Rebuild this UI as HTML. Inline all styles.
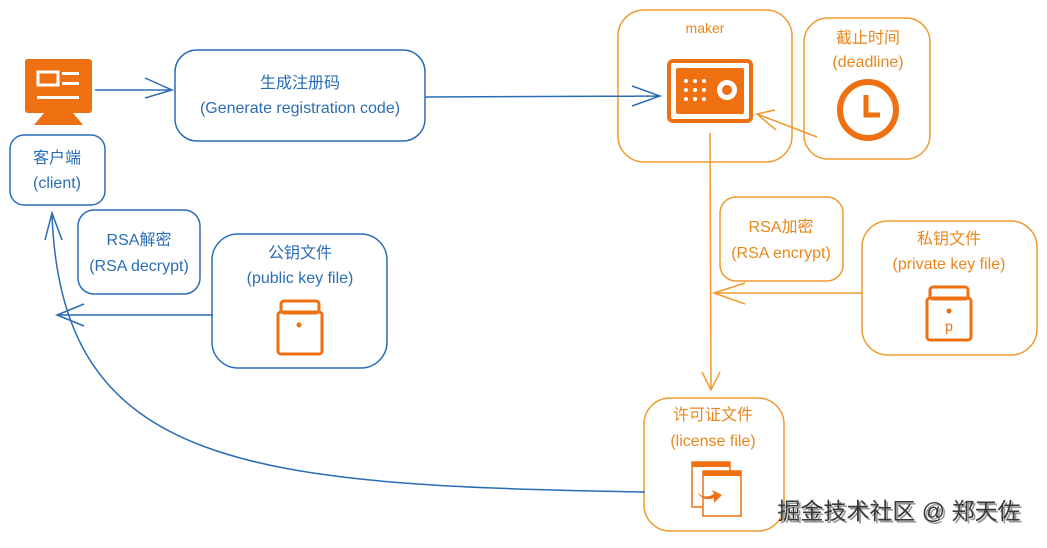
<!DOCTYPE html>
<html><head><meta charset="utf-8"><style>
body{margin:0;background:#fff;width:1047px;height:543px;overflow:hidden}
svg text{font-family:"Liberation Sans","Noto Sans CJK SC",sans-serif;text-anchor:middle}
.b{fill:#2a6db5;font-size:16px}.o{fill:#e8871c;font-size:16px}
</style></head><body>
<svg width="1047" height="543" viewBox="0 0 1047 543" xmlns="http://www.w3.org/2000/svg">
<g fill="none" stroke-width="1.5">
<rect x="10" y="135" width="95" height="70" rx="14" stroke="#2a6db5"/>
<rect x="175" y="50" width="250" height="91" rx="22" stroke="#2a6db5"/>
<rect x="78" y="210" width="122" height="84" rx="16" stroke="#2a6db5"/>
<rect x="212" y="234" width="175" height="134" rx="26" stroke="#2a6db5"/>
<rect x="618" y="10" width="174" height="152" rx="26" stroke="#ef9a2e"/>
<rect x="804" y="18" width="126" height="141" rx="24" stroke="#ef9a2e"/>
<rect x="720" y="197" width="123" height="84" rx="16" stroke="#ef9a2e"/>
<rect x="862" y="221" width="175" height="134" rx="26" stroke="#ef9a2e"/>
<rect x="644" y="398" width="140" height="133" rx="26" stroke="#ef9a2e"/>
<g stroke="#2a6db5">
<path d="M95 90 L170 90 M145 78 L172 90 L145 98"/>
<path d="M425 97 L660 96 M632 86 L660 96 L632 106"/>
<path d="M213 315 L57 315 M84 304 L57 315 L84 326"/>
<path d="M645 492 C250 485 60 470 52 213 M45 240 L52 213 L62 240"/>
</g>
<g stroke="#ef9a2e">
<path d="M817 137 L757 114 M775 110 L757 114 L776 130"/>
<path d="M710 133 L711 390 M702 372 L711 390 L720 372"/>
<path d="M862 293 L714 293 M745 283 L714 293 L745 304"/>
</g>
</g>
<rect x="25" y="59" width="67" height="54" rx="3" fill="#ef7010"/>
<polygon points="44,113 73,113 83,125 34,125" fill="#ef7010"/>
<rect x="38" y="72" width="20" height="13" fill="none" stroke="#fff" stroke-width="3"/>
<rect x="62" y="72" width="17" height="3" fill="#fff"/><rect x="62" y="82" width="17" height="3" fill="#fff"/>
<rect x="37" y="96" width="42" height="3" fill="#fff"/>
<rect x="669" y="61" width="82" height="60" rx="4" fill="none" stroke="#ef7010" stroke-width="4"/>
<rect x="676" y="68" width="68" height="46" rx="2" fill="#ef7010"/>
<g fill="#fff"><circle cx="686" cy="81" r="2"/><circle cx="695" cy="81" r="2"/><circle cx="704" cy="81" r="2"/><circle cx="686" cy="90" r="2"/><circle cx="695" cy="90" r="2"/><circle cx="704" cy="90" r="2"/><circle cx="686" cy="99" r="2"/><circle cx="695" cy="99" r="2"/><circle cx="704" cy="99" r="2"/></g>
<circle cx="727" cy="90" r="10" fill="#fff"/><circle cx="727" cy="90" r="5" fill="#ef7010"/>
<circle cx="868" cy="110" r="28" fill="none" stroke="#ef7010" stroke-width="6"/>
<path d="M866 95 V115 H880" fill="none" stroke="#ef7010" stroke-width="5"/>
<g fill="none" stroke="#ef7010" stroke-width="3">
<rect x="281" y="301" width="38" height="12" rx="3"/><rect x="278" y="312" width="44" height="42" rx="3"/>
<rect x="930" y="287" width="38" height="12" rx="3"/><rect x="927" y="298" width="44" height="42" rx="3"/>
</g>
<circle cx="299" cy="325" r="2.5" fill="#ef7010"/><circle cx="949" cy="311" r="2.5" fill="#ef7010"/>
<text x="949" y="331" style="fill:#ef7010;font-size:14px">p</text>
<rect x="692" y="462" width="38" height="45" fill="#fff" stroke="#ef7010" stroke-width="1.5"/>
<rect x="692" y="462" width="38" height="5" fill="#ef7010"/>
<rect x="703" y="471" width="38" height="45" fill="#fff" stroke="#ef7010" stroke-width="1.5"/>
<rect x="703" y="471" width="38" height="5" fill="#ef7010"/>
<path d="M697 492 Q704 500 714 494 L712 490 L722 495 L714 503 L714 498 Q703 502 697 492Z" fill="#ef7010"/>
<text class="b" x="57" y="163">客户端</text><text class="b" x="57" y="188">(client)</text>
<text class="b" x="300" y="88">生成注册码</text><text class="b" x="300" y="113">(Generate registration code)</text>
<text class="b" x="139" y="245">RSA解密</text><text class="b" x="139" y="271">(RSA decrypt)</text>
<text class="b" x="300" y="258">公钥文件</text><text class="b" x="300" y="283">(public key file)</text>
<text class="o" x="705" y="33" style="font-size:14px">maker</text>
<text class="o" x="868" y="43">截止时间</text><text class="o" x="868" y="67">(deadline)</text>
<text class="o" x="781" y="232">RSA加密</text><text class="o" x="781" y="258">(RSA encrypt)</text>
<text class="o" x="949" y="244">私钥文件</text><text class="o" x="949" y="269">(private key file)</text>
<text class="o" x="713" y="420">许可证文件</text><text class="o" x="713" y="446">(license file)</text>
<text x="901" y="521" style="font-size:23px;fill:#999">掘金技术社区 @ 郑天佐</text>
<text x="899" y="519" style="font-size:23px;fill:#3a3a3a">掘金技术社区 @ 郑天佐</text>
</svg>
</body></html>
